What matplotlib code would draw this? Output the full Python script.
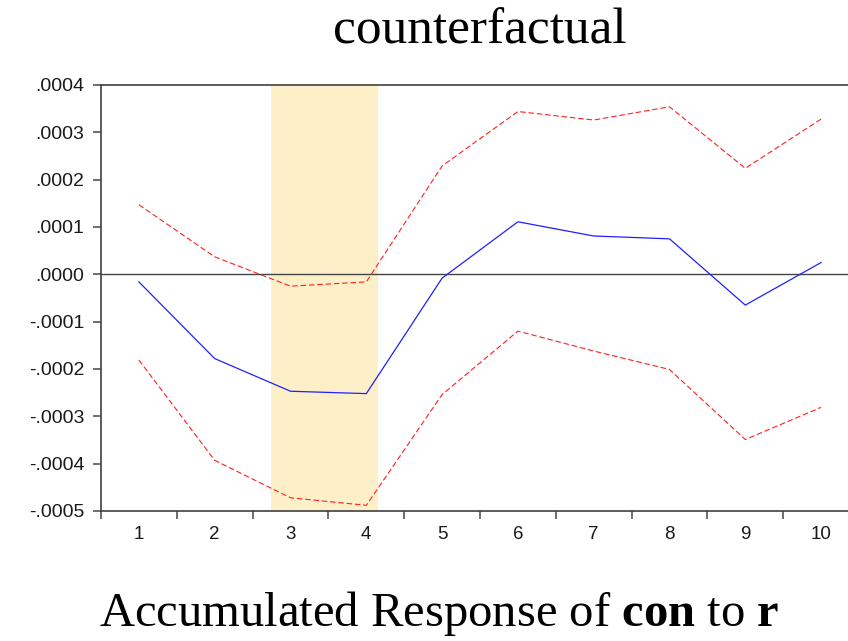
import numpy as np
import matplotlib.pyplot as plt
from matplotlib.ticker import FixedLocator, FuncFormatter

periods = list(range(1, 11))
response = [-0.000016, -0.000178, -0.000247, -0.000252, -0.000008,
            0.000111, 0.000081, 0.000075, -0.000065, 0.000025]
upper = [0.000147, 0.000037, -0.000025, -0.000016, 0.000229,
         0.000344, 0.000326, 0.000354, 0.000224, 0.000328]
lower = [-0.000181, -0.000393, -0.000472, -0.000488, -0.000254,
         -0.000120, -0.000162, -0.000201, -0.000349, -0.000281]
shade = (2.74, 4.15)
yticks = [0.0004, 0.0003, 0.0002, 0.0001, 0.0, -0.0001, -0.0002, -0.0003, -0.0004, -0.0005]

plt.rcParams['font.family'] = ['Liberation Sans', 'DejaVu Sans']
plt.rcParams['mathtext.fontset'] = 'custom'
plt.rcParams['mathtext.rm'] = 'Liberation Serif'
plt.rcParams['mathtext.bf'] = 'Liberation Serif:bold'

fig = plt.figure(figsize=(8.48, 6.41), dpi=100)
W, H = 848, 641
ax = fig.add_axes([101 / W, 1 - 511 / H, 758 / W, 426 / H])

ax.axvspan(shade[0], shade[1], color='#fdefc8', lw=0, zorder=0)
ax.axhline(0, color='#444444', lw=1.0, zorder=1)
ax.plot(periods, upper, color='#ff2020', lw=0.8, ls=(0, (5, 2.5)), zorder=2)
ax.plot(periods, lower, color='#ff2020', lw=0.8, ls=(0, (5, 2.5)), zorder=2)
ax.plot(periods, response, color='#2020ff', lw=0.9, zorder=3)

ax.set_xlim(0.5, 10.5)
ax.set_ylim(-0.0005, 0.0004)

def fmt(v, pos):
    s = f"{v:.4f}"
    return s.replace("0.", ".", 1)

ax.yaxis.set_major_locator(FixedLocator(yticks))
ax.yaxis.set_major_formatter(FuncFormatter(fmt))
ax.xaxis.set_major_locator(FixedLocator(np.arange(0.5, 10.6, 1.0)))
ax.xaxis.set_major_formatter(FuncFormatter(lambda v, p: ""))
ax.xaxis.set_minor_locator(FixedLocator(periods))
ax.xaxis.set_minor_formatter(FuncFormatter(lambda v, p: f"{int(round(v))}"))

ax.tick_params(axis='y', direction='out', length=6, width=1.2, color='#555555',
               labelsize=14, pad=6, labelcolor='#1a1a1a')
ax.tick_params(axis='x', which='major', direction='out', length=6, width=1.2, color='#555555')
ax.tick_params(axis='x', which='minor', length=0, labelsize=13.5, pad=11, labelcolor='#1a1a1a')

for side in ['left', 'top', 'bottom', 'right']:
    ax.spines[side].set_color('#404040')
    ax.spines[side].set_linewidth(1.2)

ax.set_title("counterfactual", family=['Liberation Serif', 'DejaVu Serif'],
             fontsize=37, pad=30)

fig.text(439 / W, 1 - 626 / H, r"Accumulated Response of $\mathbf{con}$ to $\mathbf{r}$",
         family=['Liberation Serif', 'DejaVu Serif'], fontsize=35,
         ha='center', va='baseline')

fig.savefig("out.png", dpi=100)
